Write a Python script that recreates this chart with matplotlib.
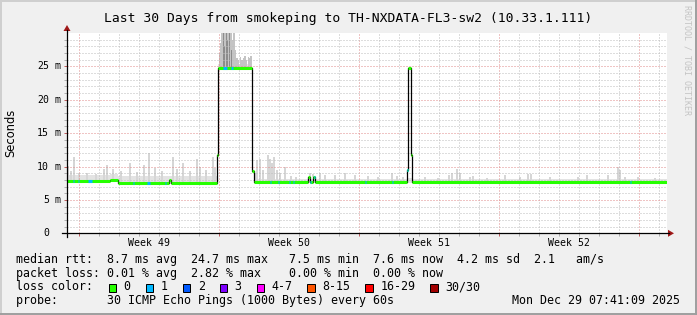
import numpy as np
import matplotlib
matplotlib.use('Agg')
from matplotlib import pyplot as plt
from matplotlib.patches import Polygon, Rectangle
from matplotlib.lines import Line2D

## ---- data (time in days since left edge, rtt in ms) ----
med_t = [0, 2.15, 2.55, 5.12, 5.18, 7.48, 7.55, 9.25, 9.35, 12.05, 12.15, 12.3, 12.4, 17.0, 17.05, 17.2, 17.27, 30]
med_v = [7.9, 8.05, 7.6, 8.0, 7.6, 11.8, 24.75, 9.3, 7.65, 8.4, 7.65, 8.4, 7.65, 9.5, 24.75, 11.7, 7.7, 7.7]

## stretches where one ping of 30 was lost (drawn blue)
loss_t0 = [0.28, 0.53, 1.05, 3.28, 4.0, 4.88, 7.8, 8.22, 10.13, 10.53, 11.08, 11.28, 12.15, 12.33, 14.88, 16.23, 17.0, 28.13]
loss_t1 = [0.35, 0.6, 1.25, 3.35, 4.15, 4.95, 8.0, 8.3, 10.2, 10.6, 11.15, 11.35, 12.22, 12.42, 14.95, 16.3, 17.05, 28.2]

## base smoke band
env_t = [0, 2.15, 2.55, 7.48, 7.55, 9.25, 9.35, 17.0, 17.27, 30]
env_lo = [7.7, 7.9, 7.4, 7.4, 24.5, 9.0, 7.5, 7.5, 7.5, 7.5]
env_hi = [8.7, 8.9, 8.6, 8.6, 25.4, 9.2, 8.2, 8.3, 8.1, 8.1]

## single smoke spikes (max rtt of a column)
spike_t = [0.05, 0.2, 0.35, 0.6, 1.0, 1.45, 1.85, 2.0, 2.3, 2.7, 3.15, 3.5, 3.85, 4.1, 4.4,
           4.75, 5.3, 5.5, 5.8, 6.15, 6.5, 6.65, 6.95, 7.3, 7.4,
           9.4, 9.5, 9.65, 9.8, 10.05, 10.15, 10.25, 10.35, 10.5, 10.65, 10.9, 11.2, 11.45,
           12.15, 12.3, 12.65, 12.9, 13.4, 13.9, 14.4, 15.05, 15.55, 16.25, 16.5, 16.8,
           17.9, 18.55, 19.1, 19.25, 19.5, 19.65, 20.15, 20.3, 21.0, 21.9, 22.65, 23.05,
           23.2, 24.15, 25.55, 26.0, 27.05, 27.55, 27.65, 27.9, 28.55, 29.4]
spike_top = [10.1, 9.4, 11.5, 9.0, 9.1, 8.9, 9.7, 10.2, 9.6, 9.3, 10.5, 9.2, 10.3, 12.1, 9.8,
             9.4, 11.5, 9.6, 10.5, 9.3, 11.2, 10.0, 9.5, 11.5, 9.8,
             9.0, 11.0, 11.2, 9.5, 11.7, 11.2, 10.5, 11.5, 9.5, 9.0, 10.0, 8.6, 8.5,
             9.0, 8.9, 9.0, 8.8, 8.8, 9.1, 8.7, 8.6, 8.5, 9.0, 8.6, 8.4,
             8.4, 8.3, 8.8, 9.0, 9.6, 9.0, 8.4, 8.6, 8.3, 8.8, 8.4, 8.9,
             8.9, 8.4, 8.4, 8.7, 8.7, 10.0, 9.5, 8.4, 8.4, 8.3]

## heavy smoke while the rtt was ~25 ms
high_t = [7.62, 7.68, 7.74, 7.8, 7.86, 7.92, 7.98, 8.04, 8.1, 8.16, 8.22, 8.28, 8.34, 8.4,
          8.5, 8.58, 8.66, 8.74, 8.82, 8.9, 8.98, 9.06, 9.14, 9.2]
high_top = [27.0, 28.5, 30, 30, 30, 30, 30, 30, 30, 30, 30, 29.0, 30, 27.5,
            26.3, 26.0, 26.4, 25.9, 26.2, 26.5, 26.0, 26.4, 26.3, 26.5]
dark_t = [7.8, 7.86, 7.98, 8.04, 8.1, 8.22]
dark_top = [30, 28.0, 30, 29.0, 30, 27.5]

## grid / labels
week_start = [0.6, 7.6, 14.6, 21.6, 28.6]
week_names = ['Week 49', 'Week 50', 'Week 51', 'Week 52']
rtt_stats = [8.7, 24.7, 7.5, 7.6, 4.2]
am_s = 2.1
loss_stats = [0.01, 2.82, 0.00, 0.00]
loss_names = ['0', '1', '2', '3', '4-7', '8-15', '16-29', '30/30']
loss_colors = ['#26ff00', '#00b8ff', '#0059ff', '#7e00ff', '#ff00ff', '#ff5500', '#ff0000', '#a10000']

W, H = 697, 315
mono = 'DejaVu Sans Mono'


def fx(x):
    return x / W


def fy(y):
    return 1 - y / H


def med_at(t):
    ## median value of the step series at time t
    i = np.searchsorted(med_t, t, side='right') - 1
    return np.array(med_v)[np.clip(i, 0, len(med_v) - 1)]


fig = plt.figure(figsize=(W / 100, H / 100), dpi=100, facecolor='#f0f0f0')
ax = fig.add_axes([fx(67), fy(233.3), 600 / W, 200.3 / H])
ax.set_xlim(0, 30)
ax.set_ylim(0, 30)
ax.set_facecolor('white')
for s in ax.spines.values():
    s.set_visible(False)

## smoke
ax.fill_between(env_t, env_lo, env_hi, step='post', color='#e3e3e3', lw=0, zorder=1)
lo = med_at(spike_t)
ax.bar(spike_t, np.array(spike_top) - lo, bottom=lo, width=0.06, color='#d6d6d6', lw=0, zorder=1)
lo = med_at(high_t)
ax.bar(high_t, np.array(high_top) - lo, bottom=lo, width=0.07, color='#c4c4c4', lw=0, zorder=1)
lo = med_at(dark_t)
ax.bar(dark_t, np.array(dark_top) - lo, bottom=lo, width=0.05, color='#8c8c8c', lw=0, zorder=1.1)

## grid (drawn over the smoke like rrdtool does)
for d in np.arange(0.6, 30, 1):
    major = min(abs(d - w) for w in week_start) < 0.01
    ax.axvline(d, color='#e08a8a' if major else '#bdbdbd', lw=0.72, ls=(0, (1, 2)), zorder=2)
for v in range(1, 30):
    ax.axhline(v, color='#e08a8a' if v % 5 == 0 else '#bdbdbd', lw=0.72, ls=(0, (1, 2)), zorder=2)

## median rtt: black step, green (loss colour) plateaus
ax.step(med_t, med_v, where='post', color='black', lw=0.9, zorder=3)
ax.hlines(med_v[:-1], med_t[:-1], med_t[1:], color=loss_colors[0], lw=2.2, zorder=4)
ax.hlines(med_at(loss_t0), loss_t0, loss_t1, color=loss_colors[1], lw=2.2, zorder=5)

## ticks
ax.set_xticks(week_start)
ax.set_xticks(np.arange(0.6, 30, 1), minor=True)
ax.set_yticks(range(0, 30, 5))
ax.set_yticks(range(0, 30), minor=True)
ax.tick_params(which='both', direction='out', length=2, width=0.72,
               labelbottom=False, labelleft=False)
ax.tick_params(which='major', color='#c06060')
ax.tick_params(which='minor', color='#b0b0b0')

## axes with arrows
axis_col = 'black'
arrow_col = '#a01818'
fig.add_artist(Line2D([fx(62), fx(669)], [fy(233.3), fy(233.3)], color=axis_col, lw=0.9))
fig.add_artist(Line2D([fx(67), fx(67)], [fy(237), fy(30)], color=axis_col, lw=0.9))
fig.add_artist(Polygon([[fx(668), fy(229.8)], [fx(668), fy(236.8)], [fx(674), fy(233.3)]],
                       closed=True, color=arrow_col, lw=0))
fig.add_artist(Polygon([[fx(63.5), fy(31)], [fx(70.5), fy(31)], [fx(67), fy(25)]],
                       closed=True, color=arrow_col, lw=0))

## y tick labels
for v in range(0, 30, 5):
    y = 233.3 - v * 200.3 / 30
    fig.text(fx(49), fy(y), str(v), family=mono, size=7.1, ha='right', va='center')
    if v > 0:
        fig.text(fx(54.5), fy(y), 'm', family=mono, size=7.1, ha='left', va='center')

## week labels
for i, name in enumerate(week_names):
    xc = 67 + (week_start[i] + 3.5) * 20
    fig.text(fx(xc), fy(246), name, family=mono, size=7.1, ha='center', va='baseline')

## titles
fig.text(fx(348), fy(22), 'Last 30 Days from smokeping to TH-NXDATA-FL3-sw2 (10.33.1.111)',
         family=mono, size=9.4, ha='center', va='baseline')
fig.text(fx(11), fy(133), 'Seconds', family='DejaVu Sans', size=8.3, rotation=90,
         ha='center', va='center')
fig.text(fx(687.5), fy(60), 'RRDTOOL / TOBI OETIKER', family=mono, size=6.0, rotation=270,
         color='#c4c4c4', ha='center', va='center')

## legend lines
line1 = ('median rtt:  %.1f ms avg  %.1f ms max   %.1f ms min  %.1f ms now  %.1f ms sd  %.1f   am/s'
         % (rtt_stats[0], rtt_stats[1], rtt_stats[2], rtt_stats[3], rtt_stats[4], am_s))
line2 = ('packet loss: %.2f %% avg  %.2f %% max    %.2f %% min  %.2f %% now'
         % (loss_stats[0], loss_stats[1], loss_stats[2], loss_stats[3]))
fs = 8.37
fig.text(fx(16), fy(263.3), line1, family=mono, size=fs, va='baseline')
fig.text(fx(16), fy(276.8), line2, family=mono, size=fs, va='baseline')
fig.text(fx(16), fy(290.5), 'loss color:', family=mono, size=fs, va='baseline')
box_x = [108.7, 145.7, 182.7, 219.7, 256.7, 307.3, 365.3, 430.3]
for bx, name, c in zip(box_x, loss_names, loss_colors):
    fig.add_artist(Rectangle((fx(bx), fy(291.5)), 7.5 / W, 8 / H, facecolor=c,
                             edgecolor='black', lw=0.72))
    fig.text(fx(bx + 15), fy(290.5), name, family=mono, size=fs, va='baseline')
fig.text(fx(16), fy(303.6), 'probe:       30 ICMP Echo Pings (1000 Bytes) every 60s',
         family=mono, size=fs, va='baseline')
fig.text(fx(680), fy(303.6), 'Mon Dec 29 07:41:09 2025', family=mono, size=fs,
         ha='right', va='baseline')

## 3d frame round the picture
fig.add_artist(Line2D([0, 1], [fy(0.5), fy(0.5)], color='#cfcfcf', lw=1.4))
fig.add_artist(Line2D([fx(0.5), fx(0.5)], [0, 1], color='#cfcfcf', lw=1.4))
fig.add_artist(Line2D([0, 1], [fy(314), fy(314)], color='#9e9e9e', lw=1.4))
fig.add_artist(Line2D([fx(696), fx(696)], [0, 1], color='#9e9e9e', lw=1.4))

fig.savefig('out.png', dpi=100, facecolor=fig.get_facecolor())
